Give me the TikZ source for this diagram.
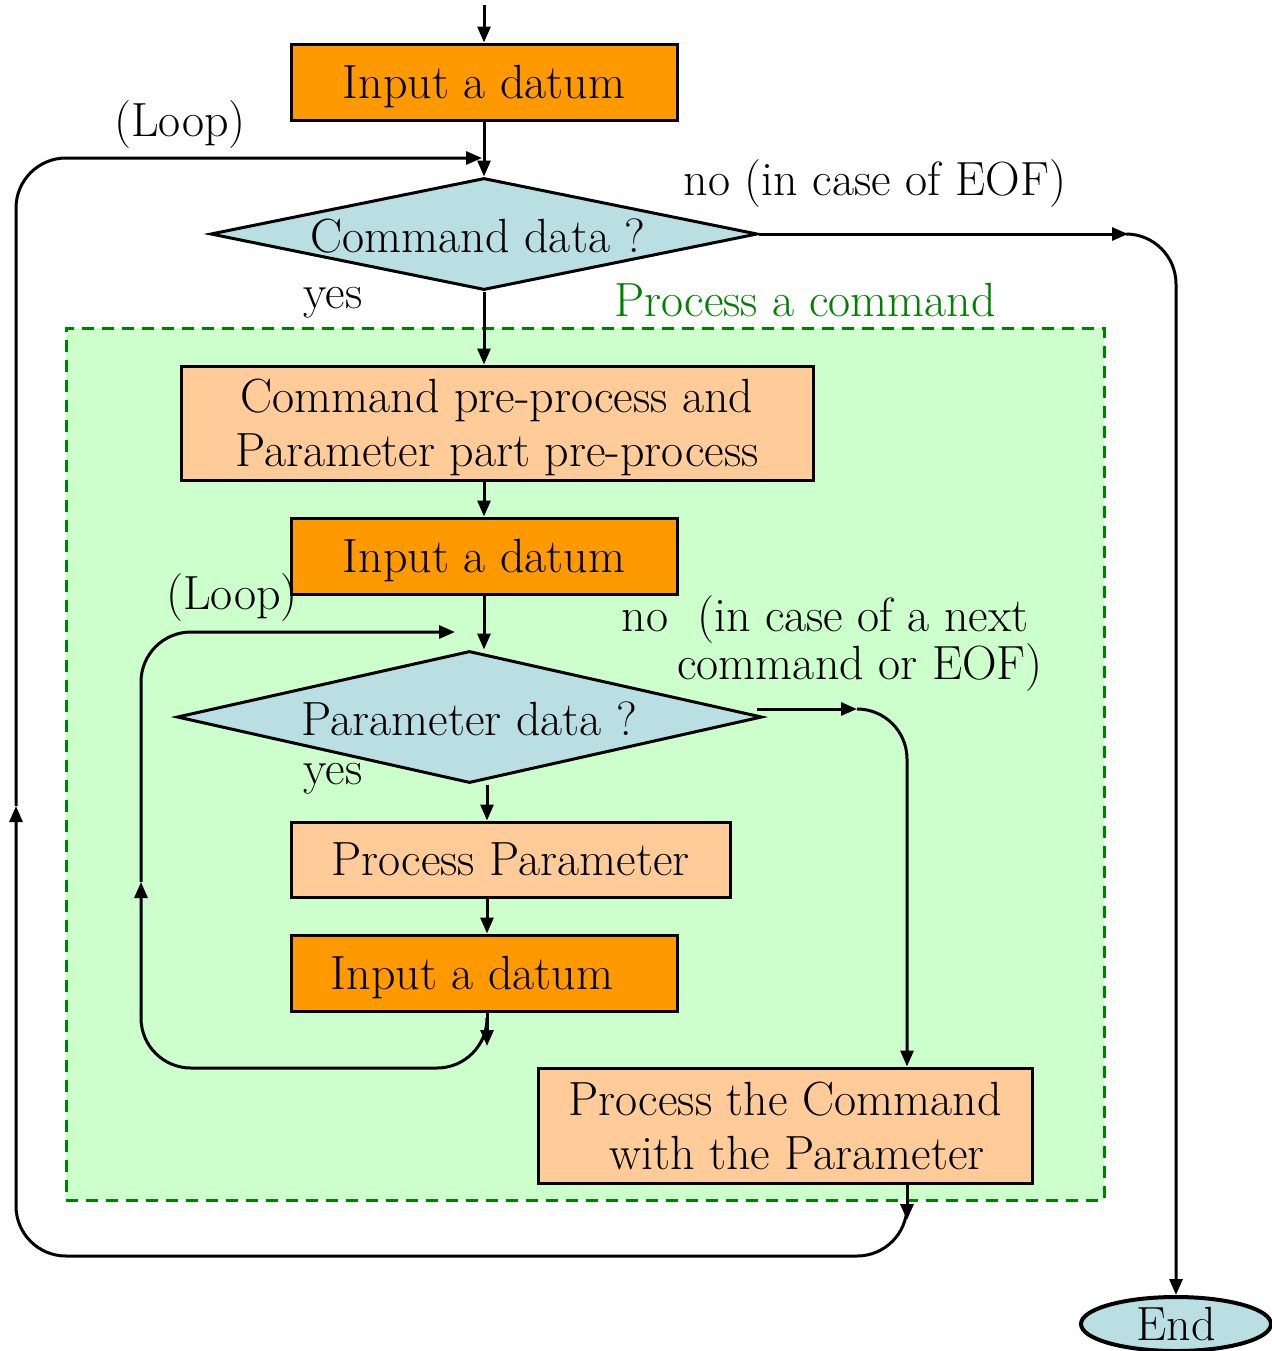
\documentclass[tikz,border=0pt]{standalone}
\usetikzlibrary{arrows.meta,shapes.geometric}
\definecolor{inorange}{HTML}{FF9900}
\definecolor{procpeach}{HTML}{FFCC99}
\definecolor{decblue}{HTML}{B9DFE3}
\definecolor{grpfill}{HTML}{CCFFCC}
\definecolor{grpline}{HTML}{008000}
\tikzset{
  bigfont/.style={font=\fontsize{24}{27}\selectfont},
  txt/.style={bigfont, inner sep=0pt},
  inbox/.style={bigfont, draw, fill=inorange, minimum width=193pt, minimum height=38pt, inner sep=0pt, text depth=0pt},
  procbox/.style={bigfont, draw, fill=procpeach, inner sep=0pt, align=center, text depth=0pt},
  dec/.style={bigfont, draw, fill=decblue, diamond, inner sep=0pt},
  grp/.style={draw=grpline, fill=grpfill, dash pattern=on 6pt off 4pt, inner sep=0pt},
  flow/.style={-{Triangle[length=8pt,width=6.5pt]}},
  loopline/.style={rounded corners=25pt}
}
\begin{document}
\begin{tikzpicture}[x=0.5pt,y=-0.5pt,line width=1.5pt]
\useasboundingbox (0,0) rectangle (1272,1351);

% command-processing group
\node[grp, minimum width=519pt, minimum height=436pt] (grp) at (585,764) {};
\node[txt, text=grpline] (grplabel) at (805,300) {Process a command};

% main steps
\node[inbox] (in1) at (484,82) {Input a datum};
\node[dec, minimum width=273.5pt, minimum height=56pt,
      label={[txt,xshift=-3pt,yshift=-1pt]center:Command data ?}] (d1) at (484,234) {};
\node[procbox, minimum width=316pt, minimum height=57pt] (pre) at (497,423)
  {Command pre-process and\\[0pt]Parameter part pre-process};
\node[inbox] (in2) at (484,556) {Input a datum};
\node[dec, minimum width=292.5pt, minimum height=66pt,
      label={[txt,yshift=-1pt]center:Parameter data ?}] (d2) at (469.5,717) {};
\node[procbox, minimum width=219.5pt, minimum height=37.5pt] (pp) at (510.5,859.5) {Process Parameter};
\node[inbox] (in3) at (484,973) {\hspace*{-12pt}Input a datum};
\node[procbox, minimum width=247pt, minimum height=57.5pt] (pc) at (785,1125.5)
  {Process the Command\\[0pt]\hspace*{12pt}with the Parameter};
\node[dec, ellipse, line width=2pt, minimum width=95pt, minimum height=27pt] (end) at (1176,1324)
  {\raisebox{-2pt}{End}};

% labels
\node[txt] (loop1) at (180,125) {(Loop)};
\node[txt] (no1) at (875,184) {no (in case of EOF)};
\node[txt] (yes1) at (333,303) {yes};
\node[txt] (loop2) at (232,598) {(Loop)};
\node[txt] (no2a) at (825,620) {no\ \ (in case of a next};
\node[txt] (no2b) at (860,668) {command or EOF)};
\node[txt] (yes2) at (333,779) {yes};

% free ends of the connectors
\coordinate (start) at (484,5);
\coordinate (join1) at (482,158);
\coordinate (eofend) at (1128,234);
\coordinate (up1) at (16,806);
\coordinate (back1) at (907,1220);
\coordinate (back1s) at (907,1214);
\coordinate (join2) at (455,632);
\coordinate (up2) at (141,882);
\coordinate (back2) at (487,1046);
\coordinate (back2s) at (487,1040);
\coordinate (nostart) at (757,709);
\coordinate (noend) at (857,709);
\coordinate (nodown) at (907,709);
\coordinate (ppx) at (487,0);

% main flow
\draw[flow] (start) -- (in1.north);
\draw[flow] (in1.south) -- (d1.north);
\draw[flow] (d1.south) -- (pre.north -| d1.south);
\draw[flow] (pre.south -| in2.north) -- (in2.north);
\draw[flow] (in2.south) -- (in2.south |- d2.north);
\draw[flow] (d2.south -| ppx) -- (pp.north -| ppx);
\draw[flow] (pp.south -| ppx) -- (in3.north -| ppx);

% exit on end of file
\draw[flow] (d1.east) -- (eofend);
\draw[flow, loopline] (eofend) -| (end.north);

% exit of the parameter loop
\draw[flow] (nostart) -- (noend);
\draw[flow, loopline] (noend) -- (nodown) -- (nodown |- pc.north);

% parameter loop
\draw[flow] (in3.south -| back2) -- (back2);
\draw[flow, loopline] (back2s) -- (487,1068) -- (141,1068) -- (up2);
\draw[flow, loopline] (up2) -- (141,632) -- (join2);

% command loop
\draw[flow] (pc.south -| back1) -- (back1);
\draw[flow, loopline] (back1s) -- (907,1256) -- (16,1256) -- (up1);
\draw[flow, loopline] (up1) -- (16,158) -- (join1);
\end{tikzpicture}
\end{document}
